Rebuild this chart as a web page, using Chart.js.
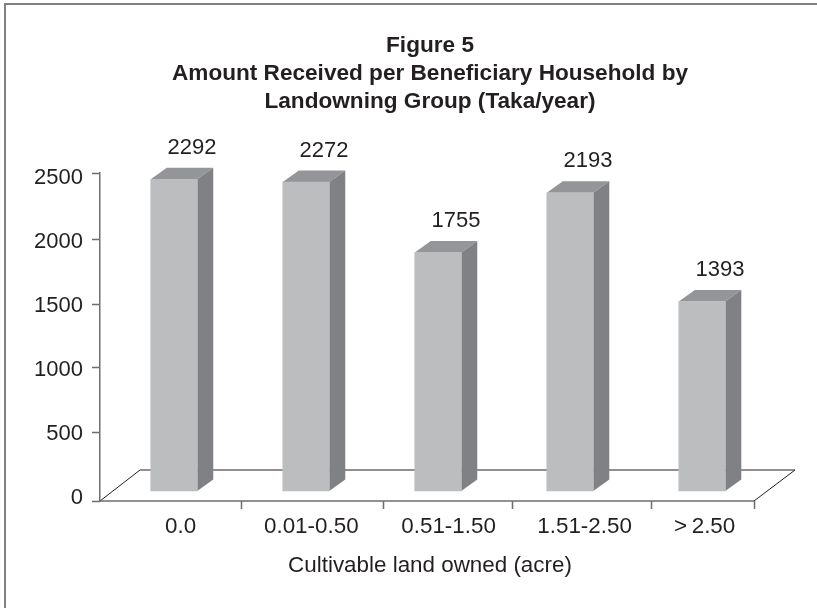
<!DOCTYPE html>
<html>
<head>
<meta charset="utf-8">
<title>Figure 5</title>
<script src="https://cdn.jsdelivr.net/npm/chart.js@4"></script>
<style>
    html, body { margin: 0; padding: 0; background: #fff; }
    #wrap { width: 817px; height: 608px; }
</style>
</head>
<body>
<div id="wrap"><canvas id="figure5" width="817" height="608"></canvas></div>
<script>
const titleLines = ['Figure 5', 'Amount Received per Beneficiary Household by', 'Landowning Group (Taka/year)'];
const xAxisTitle = 'Cultivable land owned (acre)';
const categories = ['0.0', '0.01-0.50', '0.51-1.50', '1.51-2.50', '>\u20092.50'];
const amounts = [2292, 2272, 1755, 2193, 1393];
const yTickValues = [0, 500, 1000, 1500, 2000, 2500];

// the original's labels and tick marks are not evenly spaced, so they sit at their own offsets
const labelSlots = [0.05, 1.04, 2.08, 3.11, 4.02];
const tickSlots = [0.51, 1.58, 2.56, 3.61, 4.39];
const yMarkSlots = [-23, 516, 1024, 1520, 2024, 2543];

const TEXT = '#231f20';
const AXIS = '#6d6e71';
const FONT = '"Liberation Sans", Arial, sans-serif';
const DEPTH_X = 16;
const DEPTH_Y = 11.5;

function poly(ctx, pts, fill) {
    ctx.beginPath();
    pts.forEach((p, i) => i ? ctx.lineTo(p[0], p[1]) : ctx.moveTo(p[0], p[1]));
    ctx.closePath();
    ctx.fillStyle = fill;
    ctx.fill();
}

// frame, fake 3D floor, bar sides and tops
const pseudo3d = {
    id: 'pseudo3d',
    beforeDatasetsDraw(chart) {
        const { ctx, chartArea: a, scales } = chart;
        const floorRight = Math.round(scales.x.getPixelForValue(tickSlots[tickSlots.length - 1]));
        ctx.save();
        ctx.fillStyle = '#808184';
        ctx.fillRect(4, 3, 813, 2);
        ctx.fillRect(4, 3, 2, 605);

        ctx.strokeStyle = TEXT;
        ctx.lineWidth = 1;
        ctx.beginPath();
        ctx.moveTo(a.left, a.bottom);
        ctx.lineTo(a.left + 40, a.bottom - 31);
        ctx.lineTo(floorRight + 41, a.bottom - 31);
        ctx.lineTo(floorRight, a.bottom);
        ctx.stroke();

        ctx.strokeStyle = AXIS;
        ctx.lineWidth = 1.5;
        ctx.beginPath();
        tickSlots.forEach(t => {
            const px = Math.round(scales.x.getPixelForValue(t)) + 0.5;
            ctx.moveTo(px, a.bottom);
            ctx.lineTo(px, a.bottom + 8);
        });
        yMarkSlots.forEach(t => {
            const py = Math.round(scales.y.getPixelForValue(t)) + 0.5;
            ctx.moveTo(a.left - 8, py);
            ctx.lineTo(a.left, py);
        });
        ctx.moveTo(a.left, a.bottom);
        ctx.lineTo(floorRight, a.bottom);
        ctx.stroke();

        chart.getDatasetMeta(0).data.forEach(bar => {
            const left = bar.x - bar.width / 2;
            const right = bar.x + bar.width / 2;
            poly(ctx, [[left, bar.y], [right, bar.y], [right + DEPTH_X, bar.y - DEPTH_Y], [left + DEPTH_X, bar.y - DEPTH_Y]], '#939598');
            poly(ctx, [[right, bar.y], [right + DEPTH_X, bar.y - DEPTH_Y], [right + DEPTH_X, bar.base - DEPTH_Y], [right, bar.base]], '#808184');
        });
        ctx.restore();
    },
    afterDatasetsDraw(chart) {
        const { ctx } = chart;
        ctx.save();
        ctx.fillStyle = TEXT;
        ctx.font = '22px ' + FONT;
        ctx.textAlign = 'center';
        ctx.textBaseline = 'middle';
        chart.getDatasetMeta(0).data.forEach((bar, i) => {
            ctx.fillText(String(amounts[i]), bar.x + 18, bar.y - 31.5);
        });
        ctx.restore();
    }
};

new Chart(document.getElementById('figure5'), {
    type: 'bar',
    data: {
        datasets: [{
            data: amounts.map((v, i) => ({ x: i, y: v })),
            yAxisID: 'yBar',
            backgroundColor: '#bcbdbf',
            borderWidth: 0,
            barThickness: 46.5,
            clip: false
        }]
    },
    options: {
        responsive: false,
        animation: false,
        layout: {
            autoPadding: false,
            padding: { left: 0, right: 57, top: 0, bottom: 0 }
        },
        plugins: {
            legend: { display: false },
            tooltip: { enabled: false },
            title: {
                display: true,
                fullSize: false,
                text: titleLines,
                color: TEXT,
                font: { family: FONT, size: 22.6, weight: 'bold', lineHeight: 1.24 },
                padding: { top: 32, bottom: 56.5 }
            }
        },
        scales: {
            x: {
                type: 'linear',
                offset: false,
                min: -0.5606,
                max: 4.439,
                afterBuildTicks: scale => {
                    scale.ticks = labelSlots.map(v => ({ value: v }));
                },
                afterFit: scale => { scale.height = 107; },
                grid: { display: false, drawTicks: false },
                border: { display: false },
                ticks: {
                    autoSkip: false,
                    maxRotation: 0,
                    padding: 12,
                    color: TEXT,
                    font: { family: FONT, size: 22.4 },
                    callback: (value, i) => categories[i]
                },
                title: {
                    display: true,
                    text: xAxisTitle,
                    color: TEXT,
                    font: { family: FONT, size: 22.4 },
                    padding: { top: 10, bottom: 29 }
                }
            },
            y: {
                position: 'left',
                min: -23,
                max: 2543,
                afterBuildTicks: scale => {
                    scale.ticks = yTickValues.map(v => ({ value: v }));
                },
                afterFit: scale => { scale.width = 100; },
                grid: { display: false, drawTicks: false },
                border: { display: true, color: AXIS, width: 1.5 },
                ticks: {
                    padding: 17,
                    color: TEXT,
                    font: { family: FONT, size: 22 },
                    callback: value => String(value)
                }
            },
            yBar: {
                display: false,
                min: -73.5,
                max: 2342
            }
        }
    },
    plugins: [pseudo3d]
});
</script>
</body>
</html>
